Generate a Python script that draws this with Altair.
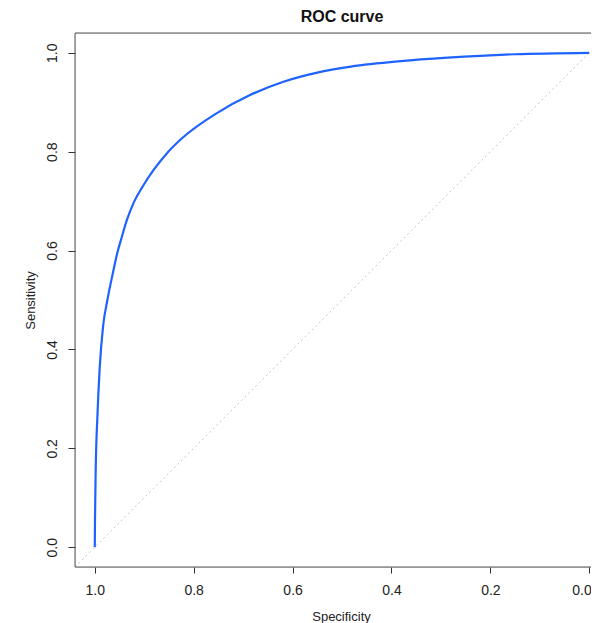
import altair as alt
import pandas as pd

# ROC curve (specificity, sensitivity)
specificity = [1.000, 0.9995, 0.998, 0.9947, 0.9899, 0.9833, 0.9745, 0.9635,
               0.9545, 0.9452, 0.935, 0.9217, 0.9035, 0.881, 0.854, 0.827,
               0.753, 0.685, 0.617, 0.550, 0.482, 0.381, 0.286, 0.151, 0.000]
sensitivity = [0.000, 0.061, 0.163, 0.264, 0.365, 0.446, 0.500, 0.554,
               0.595, 0.628, 0.662, 0.696, 0.729, 0.763, 0.797, 0.824,
               0.878, 0.915, 0.942, 0.960, 0.972, 0.983, 0.990, 0.997, 1.000]

# chance diagonal across the plotting region
diag_spec = [1.04, -0.04]
diag_sens = [-0.04, 1.04]

tick_values = [0.0, 0.2, 0.4, 0.6, 0.8, 1.0]

# visible part of the plotting region (right side is cut off in the original)
x_domain = [-0.0035, 1.04]
y_domain = [-0.04, 1.04]

roc = pd.DataFrame({"spec": specificity, "sens": sensitivity,
                    "ord": list(range(len(specificity)))})
diag = pd.DataFrame({"spec": diag_spec, "sens": diag_sens, "ord": [0, 1]})
one = pd.DataFrame({"k": [0]})

FONT = "Liberation Sans"
FRAME = "#555555"

x_scale = alt.Scale(domain=x_domain, reverse=True, nice=False, zero=False)
y_scale = alt.Scale(domain=y_domain, nice=False, zero=False)

x_enc = alt.X("spec:Q", scale=x_scale,
              axis=alt.Axis(values=tick_values, format=".1f", title="Specificity",
                            grid=False, domain=False, tickSize=6, tickColor="#333",
                            labelPadding=10, labelFontSize=14, labelColor="#222",
                            labelFont=FONT, titleFont=FONT, titleFontSize=13,
                            labelFlush=3, labelFlushOffset=2, labelBound=False,
                            titleX=266, titleFontWeight="normal", titleColor="#222",
                            titlePadding=13))
y_enc = alt.Y("sens:Q", scale=y_scale,
              axis=alt.Axis(values=tick_values, format=".1f", title="Sensitivity",
                            grid=False, domain=False, tickSize=7, tickColor="#333",
                            labelAngle=-90, labelAlign="center", labelBaseline="bottom",
                            labelPadding=9, labelFontSize=14, labelColor="#222",
                            labelFont=FONT, titleFont=FONT, titleFontSize=13,
                            titleFontWeight="normal", titleColor="#222", titlePadding=8))

diag_layer = alt.Chart(diag).mark_line(color="#c8c8c8", strokeWidth=1,
                                       strokeDash=[2, 3], clip=True).encode(
    x=x_enc, y=y_enc, order="ord:Q")

curve_layer = alt.Chart(roc).mark_line(color="#1f63ff", strokeWidth=2.2,
                                       interpolate="monotone").encode(
    x=x_enc, y=y_enc, order="ord:Q")

# plot frame: top, bottom and left sides (the right side is off-screen)
frame_top = alt.Chart(one).mark_rule(color=FRAME, strokeWidth=1).encode(
    x=alt.datum(x_domain[1], scale=x_scale), x2=alt.datum(x_domain[0]),
    y=alt.datum(y_domain[1], scale=y_scale))
frame_bottom = alt.Chart(one).mark_rule(color=FRAME, strokeWidth=1).encode(
    x=alt.datum(x_domain[1], scale=x_scale), x2=alt.datum(x_domain[0]),
    y=alt.datum(y_domain[0], scale=y_scale))
frame_left = alt.Chart(one).mark_rule(color=FRAME, strokeWidth=1).encode(
    x=alt.datum(x_domain[1], scale=x_scale),
    y=alt.datum(y_domain[0], scale=y_scale), y2=alt.datum(y_domain[1]))

chart = alt.layer(diag_layer, curve_layer, frame_top, frame_bottom, frame_left).properties(
    width=516, height=534,
    title=alt.TitleParams("ROC curve", font=FONT, fontSize=16, fontWeight="bold",
                          color="#111", offset=8, anchor="middle", dx=9),
    autosize=alt.AutoSizeParams(type="none"),
    padding={"left": 67, "top": 25, "right": 0, "bottom": 56},
).configure_view(strokeWidth=0, stroke="transparent").configure(background="white")

chart.save("out.html", embed_options={"renderer": "svg", "actions": False})
